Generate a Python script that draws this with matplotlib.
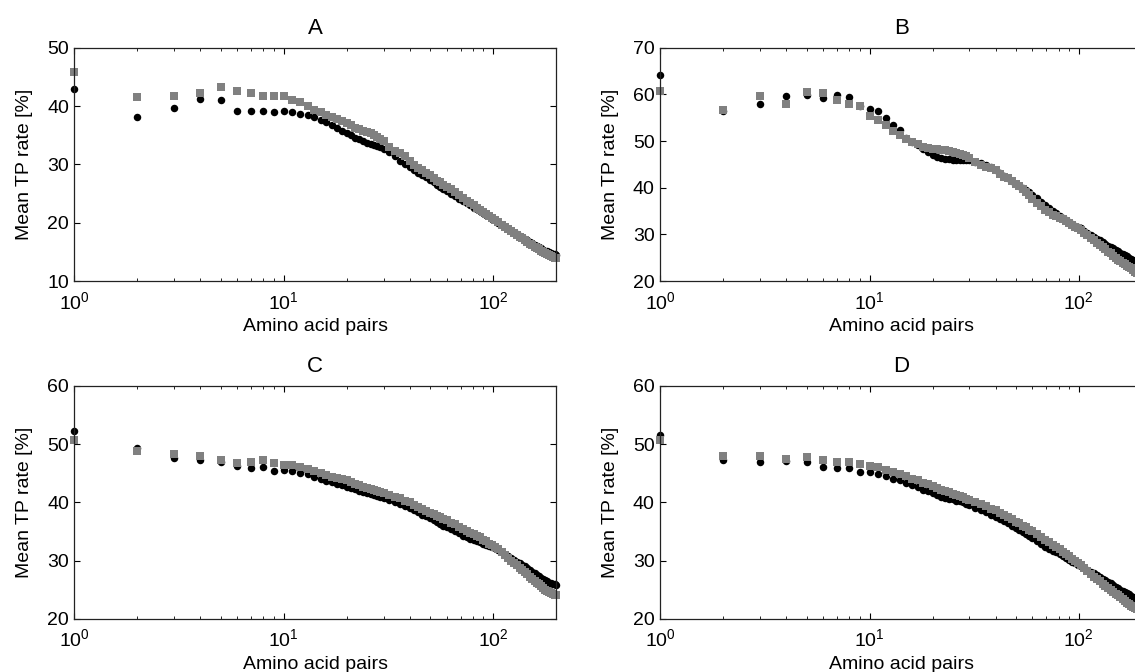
import numpy as np
import matplotlib
matplotlib.use('Agg')
import matplotlib.pyplot as plt

plt.rcParams['font.family'] = ['Liberation Sans', 'DejaVu Sans']
plt.rcParams['mathtext.default'] = 'regular'

# number of amino acid pairs (x positions)
pairs = [1, 2, 3, 4, 5, 6, 7, 8, 9, 10, 11, 12, 13, 14,
         15, 16, 17, 18, 19, 20, 21, 22, 23, 24, 25, 26, 27, 28, 29, 30,
         32, 34, 36, 38, 40, 42, 44, 46, 48, 50, 52, 54, 56, 58, 60,
         63, 66, 69, 72, 75, 78, 81, 84, 87, 90, 93, 96, 99,
         102, 106, 110, 114, 118, 122, 126, 130, 134, 138, 142, 146, 150,
         154, 158, 162, 166, 170, 174, 178, 182, 186, 190, 194, 198, 200]

# panel A
a_black = [42.9, 38.2, 39.6, 41.2, 41.0, 39.1, 39.2, 39.2, 38.9, 39.2, 39.0, 38.7, 38.4, 38.1,
           37.6, 37.2, 36.7, 36.2, 35.8, 35.4, 35.0, 34.6, 34.3, 34.0, 33.7, 33.5, 33.3, 33.1, 32.9, 32.6,
           32.1, 31.4, 30.5, 30.0, 29.6, 29.1, 28.6, 28.2, 27.8, 27.3, 26.9, 26.4, 26.1, 25.8, 25.5,
           25.0, 24.6, 24.1, 23.7, 23.3, 23.0, 22.6, 22.3, 22.0, 21.7, 21.4, 21.1, 20.7,
           20.4, 20.0, 19.6, 19.3, 18.9, 18.6, 18.3, 18.0, 17.8, 17.5, 17.2, 17.0, 16.7,
           16.5, 16.2, 16.0, 15.8, 15.6, 15.4, 15.2, 15.1, 14.9, 14.8, 14.7, 14.6, 14.5]
a_gray = [45.8, 41.5, 41.7, 42.2, 43.3, 42.5, 42.2, 41.8, 41.7, 41.7, 41.0, 40.7, 40.0, 39.4,
          38.9, 38.5, 38.1, 37.7, 37.4, 37.1, 36.7, 36.3, 36.0, 35.8, 35.5, 35.3, 35.0, 34.7, 34.4, 34.0,
          33.0, 32.3, 31.9, 31.4, 30.6, 29.9, 29.4, 29.0, 28.5, 28.1, 27.7, 27.2, 26.9, 26.5, 26.2,
          25.7, 25.2, 24.7, 24.3, 23.8, 23.4, 23.0, 22.6, 22.2, 21.9, 21.5, 21.2, 20.8,
          20.5, 20.1, 19.6, 19.2, 18.9, 18.5, 18.2, 17.9, 17.6, 17.3, 17.0, 16.7, 16.4,
          16.1, 15.9, 15.7, 15.5, 15.2, 15.0, 14.8, 14.6, 14.4, 14.3, 14.1, 14.0, 14.0]

# panel B
b_black = [64.1, 56.5, 57.9, 59.6, 59.8, 59.2, 59.8, 59.4, 57.6, 56.9, 56.4, 54.9, 53.4, 52.3,
           50.6, 49.9, 49.2, 48.4, 47.6, 47.0, 46.6, 46.3, 46.2, 46.1, 46.0, 46.0, 46.0, 46.0, 45.9, 45.9,
           45.6, 45.3, 44.9, 44.4, 43.8, 43.1, 42.5, 42.0, 41.5, 40.9, 40.4, 39.9, 39.5, 39.0, 38.5,
           37.7, 37.0, 36.2, 35.6, 35.0, 34.5, 34.0, 33.5, 33.1, 32.7, 32.3, 31.9, 31.6,
           31.3, 30.8, 30.4, 29.9, 29.5, 29.1, 28.7, 28.3, 28.0, 27.6, 27.3, 27.0, 26.7,
           26.4, 26.1, 25.8, 25.5, 25.3, 25.0, 24.8, 24.6, 24.3, 24.1, 23.9, 23.8, 23.7]
b_gray = [60.8, 56.6, 59.6, 57.9, 60.6, 60.2, 58.8, 57.9, 57.5, 55.4, 54.6, 53.4, 52.2, 51.4,
          50.4, 49.8, 49.3, 48.8, 48.5, 48.3, 48.2, 48.1, 48.0, 47.8, 47.6, 47.4, 47.2, 47.0, 46.7, 46.3,
          45.5, 44.9, 44.5, 44.2, 43.7, 42.9, 42.4, 42.0, 41.5, 40.9, 40.3, 39.7, 39.1, 38.4, 37.6,
          36.7, 36.0, 35.3, 34.7, 34.2, 33.9, 33.5, 33.2, 32.8, 32.4, 32.0, 31.6, 31.3,
          30.9, 30.4, 29.9, 29.3, 28.7, 28.2, 27.7, 27.2, 26.8, 26.3, 25.9, 25.4, 25.0,
          24.6, 24.3, 23.9, 23.6, 23.3, 23.0, 22.7, 22.4, 22.0, 21.7, 21.4, 21.2, 21.1]

# panel C
c_black = [52.3, 49.4, 47.7, 47.3, 47.0, 46.3, 45.9, 46.1, 45.4, 45.5, 45.4, 45.1, 44.8, 44.4,
           44.1, 43.7, 43.5, 43.2, 42.9, 42.7, 42.5, 42.3, 42.0, 41.8, 41.6, 41.4, 41.3, 41.1, 40.9, 40.7,
           40.4, 40.1, 39.8, 39.4, 39.1, 38.7, 38.3, 37.9, 37.6, 37.3, 37.0, 36.7, 36.3, 36.0, 35.8,
           35.4, 35.0, 34.7, 34.3, 34.0, 33.7, 33.5, 33.3, 33.1, 32.9, 32.7, 32.5, 32.3,
           32.1, 31.8, 31.4, 31.0, 30.7, 30.4, 30.1, 29.8, 29.5, 29.3, 29.0, 28.7, 28.3,
           28.0, 27.8, 27.5, 27.3, 27.0, 26.8, 26.6, 26.4, 26.2, 26.1, 26.0, 25.9, 25.8]
c_gray = [50.8, 48.8, 48.3, 48.0, 47.3, 46.8, 47.0, 47.2, 46.8, 46.5, 46.4, 46.1, 45.8, 45.4,
          45.0, 44.7, 44.4, 44.2, 44.0, 43.8, 43.5, 43.2, 42.9, 42.7, 42.5, 42.3, 42.1, 41.9, 41.8, 41.6,
          41.3, 41.0, 40.7, 40.3, 40.0, 39.6, 39.2, 38.8, 38.5, 38.2, 38.0, 37.7, 37.4, 37.2, 36.9,
          36.5, 36.2, 35.8, 35.4, 35.1, 34.8, 34.5, 34.2, 34.0, 33.6, 33.3, 32.9, 32.6,
          32.3, 31.9, 31.5, 31.0, 30.5, 30.0, 29.6, 29.2, 28.8, 28.4, 28.0, 27.6, 27.2,
          26.9, 26.5, 26.2, 25.9, 25.6, 25.3, 25.0, 24.8, 24.6, 24.4, 24.2, 24.1, 24.1]

# panel D
d_black = [51.5, 47.2, 46.9, 47.1, 47.0, 46.0, 45.9, 45.9, 45.2, 45.3, 44.9, 44.6, 44.1, 43.8,
           43.3, 43.0, 42.6, 42.2, 41.9, 41.6, 41.3, 41.0, 40.8, 40.6, 40.5, 40.3, 40.2, 40.0, 39.8, 39.5,
           39.1, 38.7, 38.3, 37.9, 37.5, 37.1, 36.8, 36.4, 36.0, 35.6, 35.3, 34.9, 34.5, 34.2, 33.8,
           33.4, 32.9, 32.4, 32.0, 31.7, 31.4, 31.1, 30.8, 30.4, 30.1, 29.8, 29.5, 29.2,
           29.0, 28.7, 28.4, 28.1, 27.8, 27.5, 27.2, 26.9, 26.6, 26.3, 26.1, 25.8, 25.5,
           25.3, 25.0, 24.8, 24.6, 24.4, 24.2, 23.9, 23.7, 23.5, 23.3, 23.2, 23.1, 23.0]
d_gray = [50.8, 47.9, 47.9, 47.5, 47.8, 47.2, 47.0, 47.0, 46.6, 46.3, 46.0, 45.6, 45.2, 44.9,
          44.5, 44.1, 43.8, 43.4, 43.1, 42.8, 42.5, 42.2, 42.0, 41.7, 41.5, 41.3, 41.1, 40.9, 40.6, 40.4,
          40.1, 39.7, 39.3, 38.9, 38.6, 38.2, 37.8, 37.5, 37.1, 36.7, 36.4, 36.0, 35.7, 35.3, 35.0,
          34.5, 34.0, 33.5, 33.1, 32.7, 32.3, 31.9, 31.5, 31.1, 30.7, 30.3, 29.9, 29.5,
          29.2, 28.7, 28.2, 27.7, 27.2, 26.8, 26.4, 26.0, 25.6, 25.2, 24.9, 24.6, 24.3,
          24.0, 23.7, 23.4, 23.0, 22.7, 22.5, 22.2, 22.0, 21.8, 21.6, 21.4, 21.3, 21.3]

titles = ['A', 'B', 'C', 'D']
ylims = [(10, 50), (20, 70), (20, 60), (20, 60)]

fig = plt.figure(figsize=(11.35, 6.72), dpi=100)

# axes boxes in figure fractions (right column runs slightly past the edge)
boxes = [[0.0656, 0.5818, 0.4242, 0.3472],
         [0.5818, 0.5818, 0.4242, 0.3472],
         [0.0656, 0.0793, 0.4242, 0.3463],
         [0.5818, 0.0793, 0.4242, 0.3463]]

series = [(a_black, a_gray), (b_black, b_gray), (c_black, c_gray), (d_black, d_gray)]

for i in range(4):
    ax = fig.add_axes(boxes[i])
    black, gray = series[i]
    ax.plot(pairs, black, 'o', color='black', markersize=5.4, markeredgewidth=0, clip_on=False)
    ax.plot(pairs, gray, 's', color='#808080', markersize=5.4, markeredgewidth=0, clip_on=False)
    ax.set_xscale('log')
    ax.set_xlim(1, 200)
    ax.set_ylim(*ylims[i])
    ax.set_yticks(np.arange(ylims[i][0], ylims[i][1] + 1, 10))
    ax.tick_params(which='both', direction='in', top=True, right=True, labelsize=14, pad=4)
    ax.tick_params(axis='x', which='major', pad=7)
    ax.tick_params(which='major', length=4, width=0.8)
    ax.tick_params(which='minor', length=2.5, width=0.6)
    for s in ax.spines.values():
        s.set_linewidth(0.9)
        s.set_color('#222222')
    ax.set_title(titles[i], fontsize=16, pad=10)
    ax.set_xlabel('Amino acid pairs', fontsize=14, labelpad=4)
    ax.set_ylabel('Mean TP rate [%]', fontsize=14, labelpad=10)

fig.savefig('out.png', dpi=100)
